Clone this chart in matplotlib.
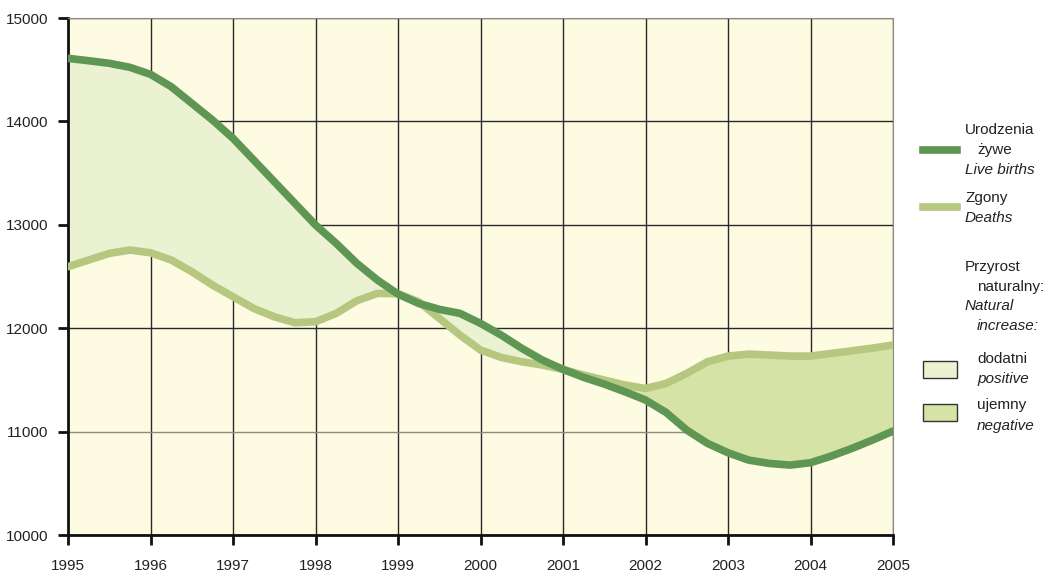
import numpy as np
import matplotlib.pyplot as plt
from matplotlib.patches import Rectangle
from matplotlib.lines import Line2D

# readings taken off the chart every quarter year
years = [1995.00, 1995.25, 1995.50, 1995.75, 1996.00, 1996.25, 1996.50, 1996.75,
         1997.00, 1997.25, 1997.50, 1997.75, 1998.00, 1998.25, 1998.50, 1998.75,
         1999.00, 1999.25, 1999.50, 1999.75, 2000.00, 2000.25, 2000.50, 2000.75,
         2001.00, 2001.25, 2001.50, 2001.75, 2002.00, 2002.25, 2002.50, 2002.75,
         2003.00, 2003.25, 2003.50, 2003.75, 2004.00, 2004.25, 2004.50, 2004.75,
         2005.00]
births = [14610, 14587, 14562, 14523, 14455, 14336, 14175, 14014,
          13836, 13627, 13417, 13208, 12998, 12821, 12628, 12466,
          12330, 12240, 12183, 12144, 12047, 11934, 11806, 11692,
          11602, 11525, 11460, 11386, 11306, 11185, 11015, 10887,
          10796, 10725, 10693, 10677, 10700, 10764, 10838, 10919,
          11006]
deaths = [12595, 12660, 12724, 12756, 12730, 12660, 12547, 12418,
          12305, 12192, 12111, 12053, 12063, 12144, 12266, 12337,
          12335, 12256, 12096, 11934, 11789, 11718, 11676, 11644,
          11602, 11547, 11499, 11451, 11418, 11467, 11564, 11676,
          11731, 11750, 11741, 11731, 11731, 11757, 11782, 11808,
          11838]
tick_years = list(range(1995, 2006))
y_ticks = [10000, 11000, 12000, 13000, 14000, 15000]

c_births = '#5f9653'
c_deaths = '#b6c880'
c_pos = '#eaf2d2'
c_neg = '#d6e3a6'
bg = '#fefbe3'

plt.rcParams['font.family'] = ['Liberation Sans', 'DejaVu Sans']

fig = plt.figure(figsize=(10.47, 5.81), dpi=100)
ax = fig.add_axes([0.065, 0.079, 0.788, 0.890])
ax.set_facecolor(bg)

x = np.array(years)
b = np.array(births)
d = np.array(deaths)
ax.fill_between(x, b, d, where=b >= d, interpolate=True, color=c_pos, lw=0, zorder=2)
ax.fill_between(x, b, d, where=b < d, interpolate=True, color=c_neg, lw=0, zorder=2)
ax.plot(x, d, color=c_deaths, lw=5.5, solid_capstyle='round', solid_joinstyle='round', zorder=3)
ax.plot(x, b, color=c_births, lw=5.5, solid_capstyle='round', solid_joinstyle='round', zorder=4)

ax.set_xlim(1995, 2005)
ax.set_ylim(10000, 15000)
ax.set_xticks(tick_years)
ax.set_yticks(y_ticks)
ax.set_xticklabels([str(t) for t in tick_years])
ax.set_yticklabels([str(t) for t in y_ticks])
ax.grid(True, color='#2a2a2a', lw=1.0, zorder=1)
for gl in ax.get_ygridlines():
    if gl.get_ydata()[0] == 11000:
        gl.set_color('#8a8a80')
ax.set_axisbelow(True)

for s in ['left', 'bottom']:
    ax.spines[s].set_linewidth(2)
    ax.spines[s].set_color('#111111')
ax.spines['top'].set_color('#8a8a80')
ax.spines['right'].set_color('#8a8a80')
ax.tick_params(axis='y', direction='out', length=7, width=2, color='#111111',
               labelsize=11, labelcolor='#222222', pad=7)
ax.tick_params(axis='x', direction='out', length=7, width=2, color='#111111',
               labelsize=11, labelcolor='#222222', pad=10)


def fy(py):
    return 1 - py / 581


def fx(px):
    return px / 1047


fs = 11
tc = '#222222'
fig.add_artist(Line2D([fx(923), fx(957)], [fy(150), fy(150)], color=c_births, lw=5.5))
fig.add_artist(Line2D([fx(923), fx(957)], [fy(207), fy(207)], color=c_deaths, lw=5.5))
fig.add_artist(Rectangle((fx(923), fy(378)), fx(957) - fx(923), fy(361) - fy(378),
                         facecolor=c_pos, edgecolor='#333333', lw=1))
fig.add_artist(Rectangle((fx(923), fy(421)), fx(957) - fx(923), fy(404) - fy(421),
                         facecolor=c_neg, edgecolor='#333333', lw=1))

labels = [
    (965, 130, 'Urodzenia', 'normal'),
    (977, 150, 'żywe', 'normal'),
    (965, 170, 'Live births', 'italic'),
    (965, 198, 'Zgony', 'normal'),
    (965, 218, 'Deaths', 'italic'),
    (965, 267, 'Przyrost', 'normal'),
    (977, 287, 'naturalny:', 'normal'),
    (965, 306, 'Natural', 'italic'),
    (977, 326, 'increase:', 'italic'),
    (977, 359, 'dodatni', 'normal'),
    (977, 379, 'positive', 'italic'),
    (977, 405, 'ujemny', 'normal'),
    (977, 426, 'negative', 'italic'),
]
for px, py, t, st in labels:
    fig.text(fx(px), fy(py), t, fontsize=fs, style=st, color=tc, ha='left', va='center')

fig.savefig('out.png', dpi=100, facecolor='white')
